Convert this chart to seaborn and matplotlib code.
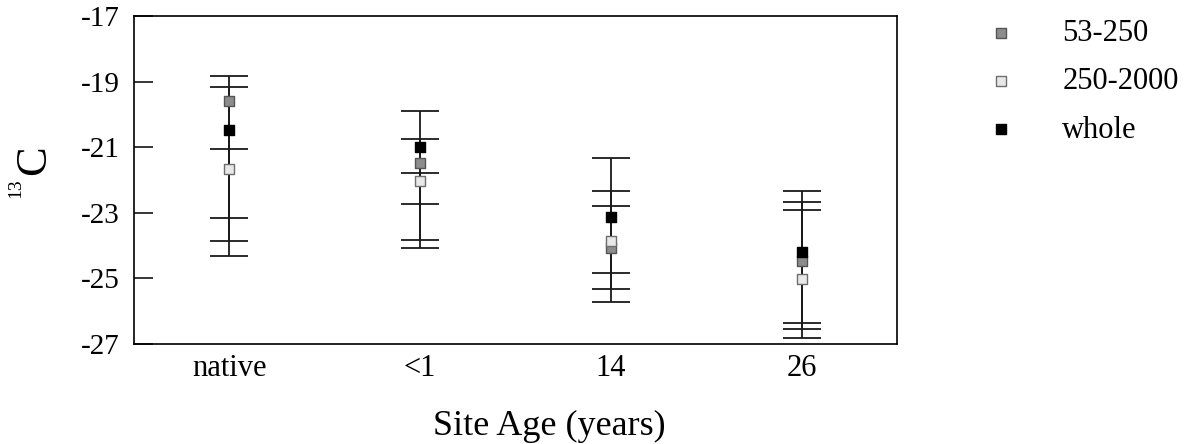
import pandas as pd
import matplotlib
matplotlib.use("Agg")
import matplotlib.pyplot as plt
import seaborn as sns

# site ages on the x axis
sites = ["native", "<1", "14", "26"]

# mean values, one list per size fraction
frac_53_250 = [-19.60, -21.47, -24.06, -24.46]
frac_250_2000 = [-21.65, -22.02, -23.86, -25.03]
whole_soil = [-20.47, -20.98, -23.12, -24.18]

# upper and lower error bar ends (the caps)
upper_53_250 = [-18.82, -20.76, -22.79, -22.66]
lower_53_250 = [-23.15, -23.82, -25.71, -26.53]
upper_250_2000 = [-21.06, -21.80, -22.33, -22.92]
lower_250_2000 = [-24.32, -24.08, -25.31, -26.83]
upper_whole = [-19.16, -19.91, -21.32, -22.33]
lower_whole = [-23.86, -22.73, -24.84, -26.37]

series = [
    ("53-250", frac_53_250, lower_53_250, upper_53_250, "#8c8c8c", "#555555"),
    ("250-2000", frac_250_2000, lower_250_2000, upper_250_2000, "#e8e8e8", "#6e6e6e"),
    ("whole", whole_soil, lower_whole, upper_whole, "#000000", "#000000"),
]

sns.set_style("ticks")
plt.rcParams["font.family"] = ["Liberation Serif", "DejaVu Serif"]
plt.rcParams["axes.unicode_minus"] = False
plt.rcParams["text.color"] = "black"
plt.rcParams["axes.labelcolor"] = "black"
plt.rcParams["xtick.color"] = "black"
plt.rcParams["ytick.color"] = "black"

fig = plt.figure(figsize=(11.86, 4.44), dpi=100)
ax = fig.add_axes([134 / 1186, 1 - 344 / 444, (897 - 134) / 1186, (344 - 16) / 444])

pos = list(range(len(sites)))

# error bars first so the squares sit on top
for name, vals, lo, hi, fc, ec in series:
    err_low = [v - l for v, l in zip(vals, lo)]
    err_high = [h - v for v, h in zip(vals, hi)]
    ax.errorbar(pos, vals, yerr=[err_low, err_high], fmt="none",
                ecolor="#1a1a1a", elinewidth=1.3, capsize=14, capthick=1.3, zorder=2)

for name, vals, lo, hi, fc, ec in series:
    df = pd.DataFrame({"pos": pos, "value": vals})
    sns.scatterplot(data=df, x="pos", y="value", marker="s", s=58, color=fc,
                    edgecolor=ec, linewidth=1.0, label=name, ax=ax, zorder=3)

ax.set_xlim(-0.5, 3.5)
ax.set_ylim(-27, -17)
ax.set_yticks([-17, -19, -21, -23, -25, -27])
ax.set_yticklabels(["-17", "-19", "-21", "-23", "-25", "-27"])
ax.set_xticks(pos)
ax.set_xticklabels(sites)
ax.tick_params(axis="y", direction="in", length=14, width=1.1, pad=10, labelsize=21)
ax.tick_params(axis="x", length=0, pad=7, labelsize=22)

for side in ["top", "right", "bottom", "left"]:
    ax.spines[side].set_visible(True)
    ax.spines[side].set_linewidth(1.2)
    ax.spines[side].set_color("black")

ax.set_ylabel("")
ax.set_xlabel("Site Age (years)", fontsize=26)
ax.xaxis.set_label_coords(0.544, -0.20)

# y label: small "13" then a large "C"
fig.text(34 / 1186, 1 - 160 / 444, "C", rotation=90, fontsize=32,
         ha="center", va="center")
fig.text(16 / 1186, 1 - 188 / 444, "13", rotation=90, fontsize=14,
         ha="center", va="center")

leg = ax.legend(loc="upper left", bbox_to_anchor=(986 / 1186, 1 - 19 / 444),
                bbox_transform=fig.transFigure, frameon=False, fontsize=22,
                handlelength=1.0, handletextpad=1.5, labelspacing=0.63,
                borderaxespad=0, borderpad=0)

fig.savefig("out.png", dpi=100)
